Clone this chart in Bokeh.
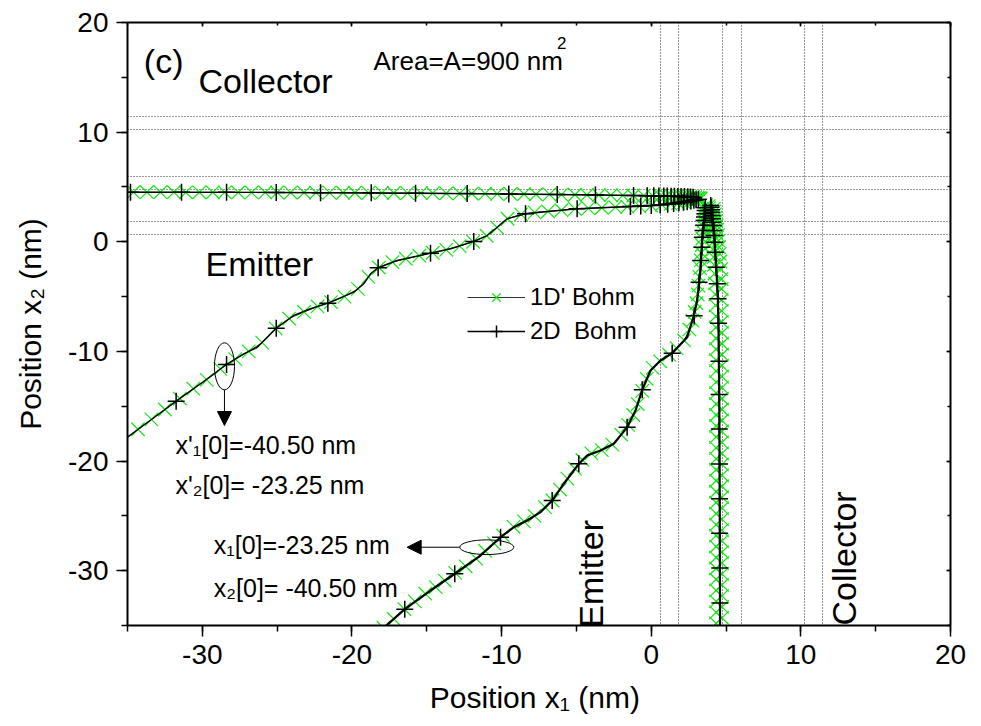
import numpy as np
from bokeh.plotting import figure
from bokeh.models import (Range1d, LinearAxis, SingleIntervalTicker, Legend, LegendItem,
                          Arrow, NormalHead, ColumnDataSource, CustomJSTickFormatter)
from bokeh.core.properties import value
from bokeh.embed import file_html
from bokeh.resources import INLINE

FONT = "Liberation Sans"

# ---------------- data ----------------
X_RANGE = (-35, 20)
Y_RANGE = (-35, 20)
TICK_INTERVAL = 10

H_LINES = [0.63, 1.84, 4.79, 5.98, 10.21, 11.42]
V_LINES = [0.63, 1.85, 4.79, 6.02, 10.25, 11.44]

# Trajectory A (top, horizontal)
A_path_x = [-35, -25, -15.75, -6.28, -1.19, 1.0, 2.16, 3.0, 3.4]
A_path_y = [4.52, 4.50, 4.43, 4.31, 4.22, 4.18, 4.13, 4.05, 3.98]
A_2d_x = [-34.8, -31.39, -28.38, -25.06, -22.1, -18.71, -15.75, -12.30, -9.52, -6.28, -3.73, -1.18,
          -0.27, 0.17, 0.51, 0.84, 1.07, 1.33, 1.55, 1.78, 2.0, 2.22, 2.44, 2.62, 2.8]
A_2d_y = [4.52, 4.52, 4.51, 4.50, 4.48, 4.46, 4.43, 4.40, 4.36, 4.31, 4.26, 4.22,
          4.20, 4.19, 4.18, 4.18, 4.17, 4.16, 4.15, 4.14, 4.13, 4.12, 4.10, 4.08, 4.06]
A_1d_x = [-34.6, -33.7, -32.8, -31.9, -31.1, -30.2, -29.3, -28.5, -27.6, -26.7,
          -25.8, -25.0, -24.1, -23.2, -22.4, -21.5, -20.6, -19.8, -18.9, -18.0,
          -17.2, -16.3, -15.4, -14.6, -13.7, -12.8, -12.0, -11.1, -10.3, -9.4,
          -8.5, -7.7, -6.8, -6.0, -5.1, -4.3, -3.5, -2.7, -1.9, -1.2,
          -0.5, 0.1, 0.6, 1.0, 1.4, 1.7, 2.0, 2.2, 2.4, 2.6,
          2.8, 2.95, 3.1, 3.2, 3.3]
A_1d_y = [4.52, 4.52, 4.52, 4.52, 4.51, 4.51, 4.51, 4.51, 4.50, 4.50,
          4.50, 4.50, 4.49, 4.49, 4.48, 4.48, 4.47, 4.47, 4.46, 4.46,
          4.45, 4.44, 4.44, 4.43, 4.42, 4.41, 4.40, 4.39, 4.37, 4.36,
          4.35, 4.33, 4.32, 4.30, 4.29, 4.27, 4.26, 4.25, 4.23, 4.22,
          4.21, 4.20, 4.19, 4.18, 4.17, 4.16, 4.15, 4.14, 4.12, 4.10,
          4.08, 4.05, 4.02, 3.99, 3.96]

# Trajectory B (from the left, x'1[0]=-40.50, x'2[0]=-23.25)
B_path_x = [-35, -33.24, -31.75, -30.12, -28.38, -27.23, -26.33, -25.66, -25.06, -23.89,
            -22.77, -21.61, -19.88, -19.21, -18.76, -18.25, -16.98, -14.75, -13.42, -11.86,
            -10.96, -10.29, -9.63, -8.40, -6.73, -4.95, -1.39, 0.17, 2.18, 3.29]
B_path_y = [-17.82, -16.05, -14.54, -12.95, -11.19, -10.22, -9.62, -8.70, -7.88, -6.72,
            -6.11, -5.60, -4.60, -3.83, -2.92, -2.37, -1.71, -1.04, -0.64, 0.03,
            0.57, 1.33, 2.10, 2.55, 2.79, 3.01, 3.22, 3.31, 3.61, 3.92]
B_2d_x = [-31.75, -28.38, -25.06, -21.61, -18.25, -14.75, -11.86, -8.40, -4.95, -1.39,
          -0.7, 0.0, 0.6, 1.1, 1.5, 1.85, 2.15, 2.4, 2.65, 2.85, 3.0, 3.15]
B_2d_y = [-14.54, -11.19, -7.88, -5.60, -2.37, -1.04, 0.03, 2.55, 3.01, 3.22,
          3.26, 3.30, 3.36, 3.42, 3.48, 3.55, 3.60, 3.66, 3.72, 3.78, 3.83, 3.88]
B_1d_x = [-34.3, -33.4, -32.5, -31.5, -30.6, -29.7, -28.8, -27.8, -26.9, -26.0,
          -25.1, -24.2, -23.2, -22.3, -21.4, -20.5, -19.6, -18.9, -18.2, -17.3,
          -16.4, -15.5, -14.6, -13.7, -12.8, -11.9, -11.0, -10.3, -9.6, -8.7,
          -7.8, -6.9, -6.0, -5.1, -4.2, -3.3, -2.4, -1.6, -0.8, 0.0,
          0.7, 1.3, 1.8, 2.2, 2.6, 2.9, 3.1, 3.3]
B_1d_y = [-17.1, -16.2, -15.3, -14.3, -13.4, -12.6, -11.6, -10.7, -10.0, -9.2,
          -7.9, -7.0, -6.4, -5.9, -5.5, -5.0, -4.3, -3.2, -2.35, -1.85,
          -1.55, -1.27, -1.0, -0.73, -0.4, 0.0, 0.55, 1.3, 2.1, 2.5,
          2.68, 2.78, 2.88, 3.0, 3.05, 3.1, 3.16, 3.2, 3.25, 3.3,
          3.38, 3.45, 3.53, 3.6, 3.7, 3.8, 3.88, 3.93]

# Trajectory C (from the bottom, x1[0]=-23.25, x2[0]=-40.50)
C_path_x = [-17.9, -16.47, -14.75, -13.13, -11.41, -10.07, -9.18, -8.29, -7.40, -6.62,
            -5.84, -4.84, -4.28, -3.39, -2.50, -1.61, -1.05, -0.60, -0.05, 0.62,
            1.40, 2.40, 2.84, 3.07, 3.29, 3.41, 3.63]
C_path_y = [-35.25, -33.51, -31.81, -30.28, -28.62, -26.95, -26.03, -25.42, -24.66, -23.60,
            -22.07, -20.25, -19.49, -19.04, -18.43, -16.91, -15.39, -13.50, -11.74, -10.83,
            -10.16, -8.70, -6.79, -5.36, -2.62, 0.42, 3.46]
C_2d_x = [-16.47, -13.13, -10.07, -6.62, -4.84, -1.61, -0.60, 1.40, 2.87, 3.2,
          3.3, 3.38, 3.42, 3.46, 3.5, 3.53, 3.56, 3.58, 3.6, 3.62]
C_2d_y = [-33.51, -30.28, -26.95, -23.60, -20.25, -16.91, -13.50, -10.16, -6.75, -3.69,
          -1.71, -0.5, 0.42, 1.03, 1.5, 1.95, 2.25, 2.56, 2.86, 3.1]
C_1d_x = [-17.9, -17.2, -16.5, -15.8, -15.1, -14.4, -13.8, -13.1, -12.4, -11.7,
          -11.1, -10.5, -9.9, -9.2, -8.5, -7.8, -7.1, -6.6, -6.1, -5.6,
          -5.1, -4.6, -4.0, -3.3, -2.6, -2.0, -1.55, -1.2, -0.9, -0.6,
          -0.3, 0.1, 0.6, 1.2, 1.7, 2.2, 2.55, 2.75, 2.9, 3.02,
          3.1, 3.16, 3.22, 3.27, 3.31, 3.34, 3.38, 3.42, 3.46, 3.5,
          3.53, 3.56, 3.59, 3.62, 3.65, 3.68]
C_1d_y = [-35.2, -34.4, -33.5, -32.8, -32.1, -31.5, -30.9, -30.2, -29.6, -28.9,
          -28.2, -27.5, -26.8, -26.0, -25.5, -25.0, -24.2, -23.6, -22.6, -21.6,
          -20.7, -19.9, -19.3, -19.0, -18.5, -17.6, -16.7, -15.8, -14.8, -13.6,
          -12.5, -11.5, -10.9, -10.3, -9.7, -9.0, -8.0, -7.2, -6.4, -5.6,
          -4.8, -4.0, -3.2, -2.4, -1.7, -1.0, -0.3, 0.3, 0.9, 1.4,
          1.9, 2.3, 2.6, 2.9, 3.15, 3.35]

# Trajectory D (bottom, vertical)
D_path_x = [4.6, 4.58, 4.55, 4.5, 4.45, 4.35, 4.22, 4.1, 3.97]
D_path_y = [-35.3, -25, -15, -8, -5, -2.5, 0.4, 2.2, 3.46]
D_2d_x = [4.59, 4.58, 4.57, 4.57, 4.56, 4.55, 4.54, 4.53, 4.5, 4.46, 4.41, 4.35,
          4.28, 4.24, 4.21, 4.18, 4.15, 4.13, 4.1, 4.07, 4.04, 4.02, 3.99, 3.98]
D_2d_y = [-32.95, -29.75, -26.59, -23.43, -20.26, -17.07, -13.94, -10.9, -7.43, -5.2, -3.83, -2.32,
          -0.95, -0.04, 0.57, 1.03, 1.48, 1.78, 2.09, 2.4, 2.7, 2.92, 3.16, 3.31]
D_1d_left_x = [4.33, 4.33, 4.33, 4.33, 4.33, 4.33, 4.33, 4.33, 4.33, 4.33,
               4.33, 4.33, 4.33, 4.33, 4.33, 4.33, 4.33, 4.33, 4.33, 4.33,
               4.33, 4.33, 4.33, 4.33, 4.33, 4.33, 4.33, 4.32, 4.31, 4.30,
               4.28, 4.26, 4.23, 4.2, 4.16, 4.12, 4.08, 4.05, 4.02, 3.99,
               3.96, 3.94, 3.92, 3.9, 3.88, 3.86, 3.84]
D_1d_left_y = [-34.8, -33.8, -32.8, -31.8, -30.8, -29.8, -28.8, -27.8, -26.8, -25.8,
               -24.8, -23.8, -22.8, -21.8, -20.8, -19.8, -18.8, -17.8, -16.8, -15.8,
               -14.8, -13.8, -12.8, -11.8, -10.8, -9.8, -8.8, -7.8, -6.8, -5.8,
               -4.8, -3.8, -2.9, -2.1, -1.4, -0.7, -0.1, 0.4, 0.9, 1.3,
               1.7, 2.0, 2.3, 2.6, 2.85, 3.05, 3.25]
D_1d_right_x = [4.73, 4.73, 4.73, 4.73, 4.73, 4.73, 4.73, 4.73, 4.73, 4.73,
                4.73, 4.73, 4.73, 4.73, 4.73, 4.73, 4.73, 4.73, 4.73, 4.73,
                4.73, 4.73, 4.73, 4.73, 4.73, 4.73, 4.73, 4.72, 4.72, 4.71,
                4.71, 4.7, 4.66, 4.62, 4.58, 4.54, 4.5, 4.46, 4.42, 4.38,
                4.34, 4.3, 4.26, 4.22, 4.18]
D_1d_right_y = [-34.3, -33.3, -32.3, -31.3, -30.3, -29.3, -28.3, -27.3, -26.3, -25.3,
                -24.3, -23.3, -22.3, -21.3, -20.3, -19.3, -18.3, -17.3, -16.3, -15.3,
                -14.3, -13.3, -12.3, -11.3, -10.3, -9.3, -8.3, -7.3, -6.3, -5.3,
                -4.3, -3.4, -2.5, -1.8, -1.1, -0.5, 0.1, 0.6, 1.1, 1.5,
                1.9, 2.2, 2.5, 2.75, 3.0]

# Annotations
ELL_X = [-28.52, -10.99]
ELL_Y = [-11.36, -27.86]
ELL_W = [1.34, 3.61]
ELL_H = [4.29, 1.34]
ARR_X0 = [-28.52, -12.79]
ARR_Y0 = [-13.50, -27.86]
ARR_X1 = [-28.52, -16.31]
ARR_Y1 = [-16.76, -27.86]

BIG_TXT = ["(c)", "Collector", "Emitter"]
BIG_X = [-33.91, -30.26, -29.79]
BIG_Y = [16.45, 14.62, -2.06]
AREA_TXT = ["Area=A=900 nm"]
AREA_X = [-18.56]
AREA_Y = [16.53]
SUP_TXT = ["2"]
SUP_X = [-6.3]
SUP_Y = [18.1]
VERT_TXT = ["Emitter", "Collector"]
VERT_X = [-4.0, 12.89]
VERT_Y = [-35.2, -35.0]
NOTE_TXT = ["x'\u2081[0]=-40.50 nm", "x'\u2082[0]= -23.25 nm",
            "x\u2081[0]=-23.25 nm", "x\u2082[0]= -40.50 nm"]
NOTE_X = [-31.79, -31.79, -29.23, -29.23]
NOTE_Y = [-18.54, -22.19, -27.66, -31.61]

SERIES_LABELS = ["1D' Bohm", "2D  Bohm"]
X_LABEL = "Position  x\u2081 (nm)"
Y_LABEL = "Position x\u2082 (nm)"

# ---------------- figure ----------------
p = figure(width=981, height=726, output_backend="svg", toolbar_location=None,
           x_range=Range1d(*X_RANGE), y_range=Range1d(*Y_RANGE),
           min_border_left=127, min_border_right=31, min_border_top=22, min_border_bottom=101,
           x_axis_label=X_LABEL, y_axis_label=Y_LABEL)
p.grid.visible = False
p.outline_line_color = None
p.background_fill_color = "white"
p.border_fill_color = "white"

fmt = CustomJSTickFormatter(code="return tick.toFixed(0);")
for ax in (p.xaxis[0], p.yaxis[0]):
    ax.ticker = SingleIntervalTicker(interval=TICK_INTERVAL, num_minor_ticks=2)
    ax.formatter = fmt
    ax.axis_line_width = 2
    ax.axis_line_color = "black"
    ax.major_tick_line_width = 1.5
    ax.minor_tick_line_width = 1.5
    ax.major_tick_out = 11
    ax.major_tick_in = 0
    ax.minor_tick_out = 6
    ax.minor_tick_in = 0
    ax.major_label_text_font = FONT
    ax.major_label_text_font_size = "28px"
    ax.major_label_text_color = "black"
    ax.major_label_standoff = 8
    ax.axis_label_text_font = FONT
    ax.axis_label_text_font_size = "30px"
    ax.axis_label_text_font_style = "normal"
    ax.axis_label_text_color = "black"
p.xaxis[0].axis_label_standoff = 14
p.yaxis[0].axis_label_standoff = 18

for loc in ("above", "right"):
    ax = LinearAxis(ticker=SingleIntervalTicker(interval=TICK_INTERVAL, num_minor_ticks=2),
                    axis_line_width=2, major_tick_in=4, major_tick_out=0,
                    minor_tick_in=3, minor_tick_out=0, major_tick_line_width=1.5,
                    minor_tick_line_width=1.5, major_label_text_font_size="1px",
                    major_label_text_color=None, major_label_standoff=0)
    p.add_layout(ax, loc)

# dotted reference lines
p.hspan(y=H_LINES, line_color="#333333", line_dash="1 2", line_width=1)
p.vspan(x=V_LINES, line_color="#333333", line_dash="1 2", line_width=1)

GREEN = "#10e810"
one_d_lines, one_d_marks = [], []
for xs, ys in [(A_1d_x, A_1d_y), (B_1d_x, B_1d_y), (C_1d_x, C_1d_y)]:
    one_d_lines.append(p.line(xs, ys, line_color="#333333", line_width=1))
for xs, ys in [(A_1d_x, A_1d_y), (B_1d_x, B_1d_y), (C_1d_x, C_1d_y),
               (D_1d_left_x, D_1d_left_y), (D_1d_right_x, D_1d_right_y)]:
    one_d_marks.append(p.scatter(xs, ys, marker="x", size=19, line_color=GREEN, line_width=1.2))

two_d_lines, two_d_marks = [], []
for (xs, ys), lw in [((A_path_x, A_path_y), 1.4), ((B_path_x, B_path_y), 1.4),
                     ((C_path_x, C_path_y), 2.2), ((D_path_x, D_path_y), 2.2)]:
    two_d_lines.append(p.line(xs, ys, line_color="black", line_width=lw))
for xs, ys in [(A_2d_x, A_2d_y), (B_2d_x, B_2d_y), (C_2d_x, C_2d_y), (D_2d_x, D_2d_y)]:
    two_d_marks.append(p.scatter(xs, ys, marker="cross", size=17, line_color="black", line_width=1.5))

# ellipses and arrows
p.ellipse(x=ELL_X, y=ELL_Y, width=ELL_W, height=ELL_H, fill_color=None,
          line_color="black", line_width=1)
arr_src = ColumnDataSource(dict(x0=ARR_X0, y0=ARR_Y0, x1=ARR_X1, y1=ARR_Y1))
p.add_layout(Arrow(source=arr_src, x_start="x0", y_start="y0", x_end="x1", y_end="y1",
                   line_color="black", line_width=1,
                   end=NormalHead(size=14, fill_color="black", line_color="black", line_width=1)))

# texts
p.text(x=BIG_X, y=BIG_Y, text=BIG_TXT, text_font=value(FONT), text_font_size="34px",
       text_align="left", text_baseline="alphabetic", text_color="black")
p.text(x=AREA_X, y=AREA_Y, text=AREA_TXT, text_font=value(FONT), text_font_size="26px",
       text_align="left", text_baseline="alphabetic", text_color="black")
p.text(x=SUP_X, y=SUP_Y, text=SUP_TXT, text_font=value(FONT), text_font_size="17px",
       text_align="left", text_baseline="alphabetic", text_color="black")
p.text(x=VERT_X, y=VERT_Y, text=VERT_TXT, text_font=value(FONT), text_font_size="34px",
       angle=np.pi / 2, text_align="left", text_baseline="alphabetic", text_color="black")
p.text(x=NOTE_X, y=NOTE_Y, text=NOTE_TXT, text_font=value(FONT), text_font_size="25px",
       text_align="left", text_baseline="alphabetic", text_color="black")

legend = Legend(items=[LegendItem(label=SERIES_LABELS[0], renderers=[one_d_lines[0], one_d_marks[0]]),
                       LegendItem(label=SERIES_LABELS[1], renderers=[two_d_lines[0], two_d_marks[0]])],
                location=(340, 279), glyph_width=58, glyph_height=30, label_height=30,
                label_standoff=5, padding=0, spacing=4, margin=0,
                background_fill_alpha=0, border_line_alpha=0,
                label_text_font=FONT, label_text_font_size="24px", label_text_color="black")
p.add_layout(legend)

open("out.html", "w").write(file_html(p, INLINE))
